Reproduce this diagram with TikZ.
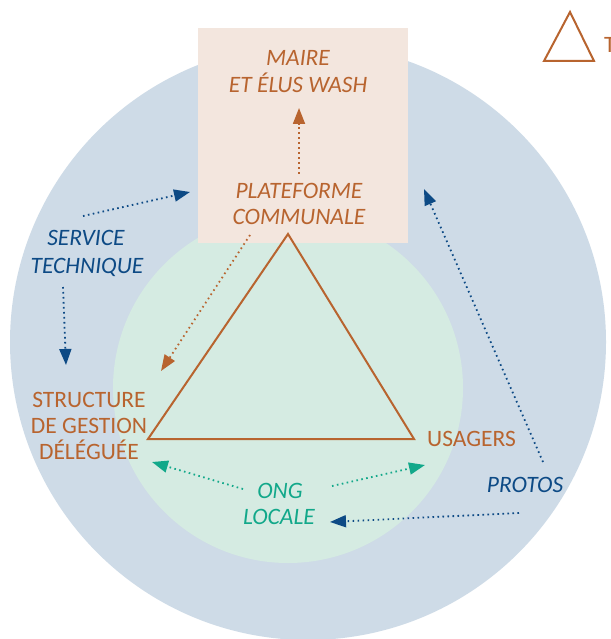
\documentclass[tikz,border=0pt]{standalone}
\usepackage{fontspec}
\setmainfont{Carlito}
\usetikzlibrary{arrows.meta}
\definecolor{ringblue}{HTML}{CEDBE7}
\definecolor{ringgreen}{HTML}{D5EBE2}
\definecolor{boxbeige}{HTML}{F3E6DE}
\definecolor{rust}{HTML}{B8642F}
\definecolor{navy}{HTML}{0D4A85}
\definecolor{ongteal}{HTML}{12A88A}
\begin{document}
\begin{tikzpicture}[x=1pt,y=-1pt,
  lbl/.style={font=\fontsize{23.5}{28}\selectfont, inner sep=0pt, anchor=base},
  ital/.style={lbl, font=\fontsize{23.5}{28}\selectfont\itshape},
  link/.style={line width=1.8pt, dash pattern=on 1.6pt off 3.4pt,
    -{Triangle[length=16pt,width=12pt]}},
  tri/.style={draw=rust, line width=2pt, line join=miter}]
  % canvas
  \useasboundingbox (0,0) rectangle (610,639);
  \fill[white] (0,0) rectangle (610,639);
  % rings and commune box
  \fill[ringblue] (308,342) circle (298);
  \fill[ringgreen] (288,388) circle (175);
  \fill[boxbeige] (198,28) rectangle (408,243);
  % central triangle and legend triangle
  \draw[tri] (288,234) -- (414,439) -- (148,439) -- cycle;
  \draw[tri] (570,12) -- (594,61) -- (544,61) -- cycle;
  \node[lbl, rust, anchor=base west] (legend) at (604,53) {T};

  % labels
  \node[ital, rust] (maireA) at (298,66) {MAIRE};
  \node[ital, rust] (maireB) at (298,93) {ET ÉLUS WASH};
  \node[ital, rust] (platA) at (299,198) {PLATEFORME};
  \node[ital, rust] (platB) at (299,224) {COMMUNALE};
  \node[ital, navy] (servA) at (86,245) {SERVICE};
  \node[ital, navy] (servB) at (87,273) {TECHNIQUE};
  \node[lbl, rust] (sgdA) at (89,407) {STRUCTURE};
  \node[lbl, rust] (sgdB) at (89,433) {DE GESTION};
  \node[lbl, rust] (sgdC) at (89,459) {DÉLÉGUÉE};
  \node[lbl, rust, anchor=base west] (usagers) at (427,446) {USAGERS};
  \node[ital, navy] (protos) at (525,492) {PROTOS};
  \node[ital, ongteal] (ongA) at (280,498) {ONG};
  \node[ital, ongteal] (ongB) at (279,524) {LOCALE};

  % connector ends
  \coordinate (pc-up) at (299,174);
  \coordinate (maire-in) at (299,108);
  \coordinate (pc-down) at (250,235);
  \coordinate (sgd-in) at (161,371);
  \coordinate (st-right) at (83,216);
  \coordinate (pc-in) at (190,192);
  \coordinate (st-down) at (63,287);
  \coordinate (sgd-top) at (66,365);
  \coordinate (pr-up) at (543,462);
  \coordinate (box-in) at (424,189);
  \coordinate (pr-left) at (519,513);
  \coordinate (ong-in) at (330,522);
  \coordinate (ong-left) at (243,489);
  \coordinate (sgd-low) at (152,462);
  \coordinate (ong-right) at (332,486);
  \coordinate (us-low) at (425,465);

  % connectors
  \draw[link, rust] (pc-up) -- (maire-in);
  \draw[link, rust] (pc-down) -- (sgd-in);
  \draw[link, navy] (st-right) -- (pc-in);
  \draw[link, navy] (st-down) -- (sgd-top);
  \draw[link, navy] (pr-up) -- (box-in);
  \draw[link, navy] (pr-left) -- (ong-in);
  \draw[link, ongteal] (ong-left) -- (sgd-low);
  \draw[link, ongteal] (ong-right) -- (us-low);
\end{tikzpicture}
\end{document}
